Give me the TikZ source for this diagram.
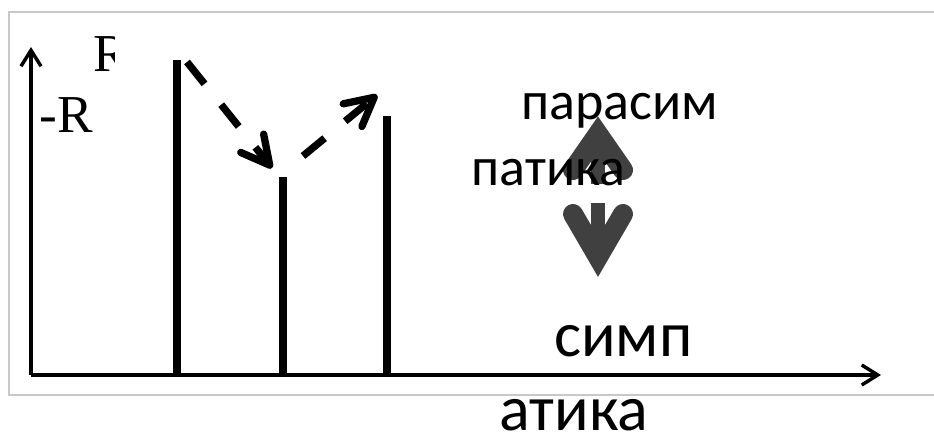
\documentclass[tikz,border=0pt]{standalone}
\usepackage{fontspec}
\setmainfont{Liberation Serif}
\newfontfamily\calib{Carlito}
\usetikzlibrary{arrows.meta}
\definecolor{framegray}{HTML}{C8C8C8}
\definecolor{arrgray}{HTML}{404040}
\tikzset{
  frameline/.style={draw=framegray, line width=1.5pt},
  axisline/.style={line width=2.6pt, -{Straight Barb[length=12pt,width=15pt,line width=2.6pt]}},
  barline/.style={line width=5.5pt},
  dasharrow/.style={line width=5.5pt, dash pattern=on 21pt off 20pt,
     -{Straight Barb[length=21pt,width=22pt,round,line width=5.5pt]}},
  grayline/.style={draw=arrgray, line width=11pt},
  graybarb/.style={draw=arrgray, line width=15pt, line cap=round, line join=miter, miter limit=20},
  serlabel/.style={inner sep=0pt, anchor=base west, font=\fontsize{40}{40}\selectfont},
  toplabel/.style={inner sep=0pt, anchor=base west, font=\calib\fontsize{40.5}{40.5}\selectfont},
  botlabel/.style={inner sep=0pt, anchor=base west, font=\calib\fontsize{48}{48}\selectfont},
}
\begin{document}
\begin{tikzpicture}[x=0.75pt,y=-0.75pt]
\useasboundingbox (0,0) rectangle (934,438);
% frame
\draw[frameline] (934,12) -- (9,12) -- (9,395) -- (934,395);
% axes
\coordinate (O) at (31,375);
\coordinate (Ytop) at (31,47);
\coordinate (Xend) at (881,375);
\draw[axisline] (O) -- (Ytop);
\draw[axisline] (O) -- (Xend);
% bars
\coordinate (b1t) at (177,60);  \coordinate (b1b) at (177,375);
\coordinate (b2t) at (283,177); \coordinate (b2b) at (283,375);
\coordinate (b3t) at (387,116); \coordinate (b3b) at (387,375);
\draw[barline] (b1b) -- (b1t);
\draw[barline] (b2b) -- (b2t);
\draw[barline] (b3b) -- (b3t);
% dashed arrows
\coordinate (d1s) at (187,62);  \coordinate (d1e) at (272,168);
\coordinate (d2s) at (303,156); \coordinate (d2e) at (377,95);
\draw[dasharrow] (d1s) -- (d1e);
\draw[dasharrow] (d2s) -- (d2e);
% gray arrows
\draw[grayline] (598,184) -- (598,140);
\draw[graybarb] (573,170) -- (598,134) -- (623,170);
\draw[grayline] (598,203) -- (598,250);
\draw[graybarb] (573,214) -- (598,257) -- (623,214);
% labels
\begin{scope}
\clip (0,0) rectangle (114,100);
\node[serlabel] (R1) at (93,72) {R};
\end{scope}
\node[serlabel] (R2) at (39,133) {-R};
\node[toplabel] (para) at (521,120) {парасим};
\node[toplabel] (pati) at (471,186) {патика};
\node[botlabel] (simp) at (554,356) {симп};
\node[botlabel] (atika) at (499,430) {атика};
\end{tikzpicture}
\end{document}
